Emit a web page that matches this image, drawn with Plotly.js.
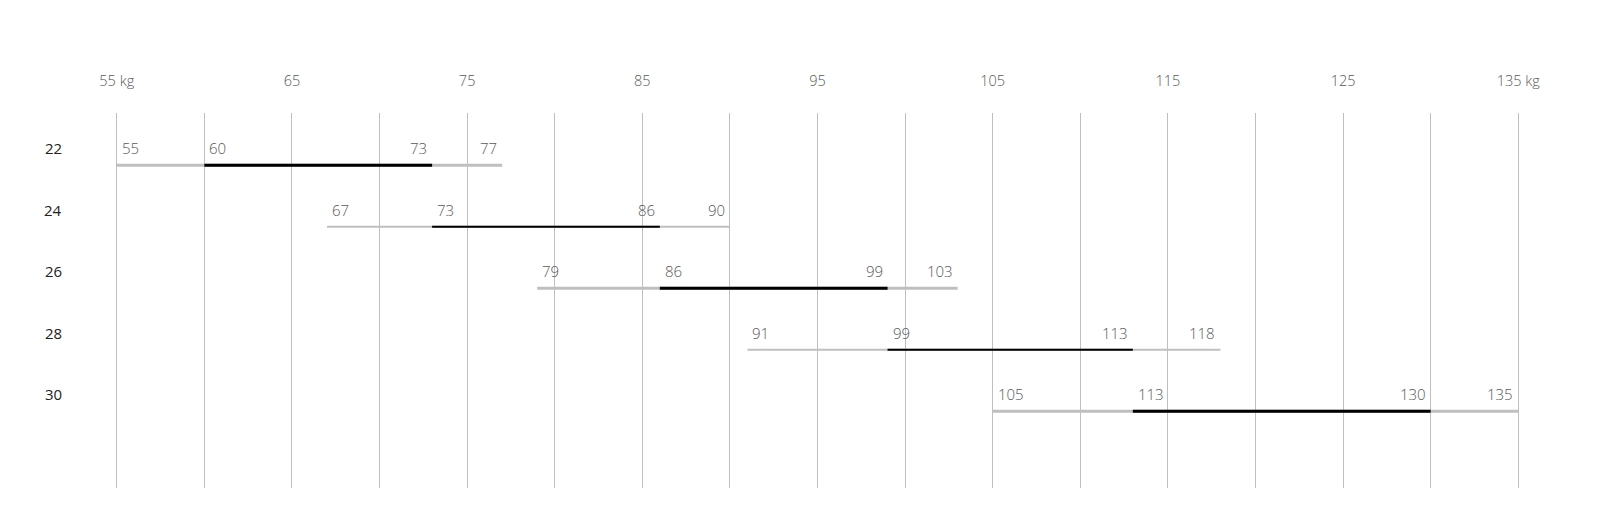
<!DOCTYPE html>
<html>
<head>
<meta charset="utf-8">
<script src="https://cdn.plot.ly/plotly-3.0.1.min.js"></script>
<style>
  html, body { margin: 0; padding: 0; background: #fff; overflow: hidden; }
  #chart { width: 1597px; height: 513px; }
</style>
</head>
<body>
<div id="chart"></div>
<script>
// Weight bands per row: outer range (grey) and inner range (black)
const ROWS        = [22, 24, 26, 28, 30];
const OUTER_LOW   = [55, 67, 79, 91, 105];
const INNER_LOW   = [60, 73, 86, 99, 113];
const INNER_HIGH  = [73, 86, 99, 113, 130];
const OUTER_HIGH  = [77, 90, 103, 118, 135];

const TICK_VALUES = [55, 60, 65, 70, 75, 80, 85, 90, 95, 100, 105, 110, 115, 120, 125, 130, 135];
const TICK_LABELS = ['55 kg', '', '65', '', '75', '', '85', '', '95', '', '105', '', '115', '', '125', '', '135 kg'];

const LINE_WIDTHS = [3, 2, 3, 2, 3];

const FONT = 'Open Sans, DejaVu Sans, sans-serif';
const GREY = '#bfbfbf';

const traces = [];
ROWS.forEach((row, i) => {
  traces.push({
    type: 'scatter', mode: 'lines',
    x: [OUTER_LOW[i], OUTER_HIGH[i]], y: [row, row],
    line: { color: GREY, width: LINE_WIDTHS[i] },
    hoverinfo: 'skip',
  });
  traces.push({
    type: 'scatter', mode: 'lines',
    x: [INNER_LOW[i], INNER_HIGH[i]], y: [row, row],
    line: { color: '#000', width: LINE_WIDTHS[i] },
    hoverinfo: 'skip',
  });
});

// Value labels sit just above the line: starts left-aligned, ends right-aligned
const labelFont = { family: FONT, size: 15, color: '#595959', weight: 300 };
const annotations = [];
ROWS.forEach((row, i) => {
  [OUTER_LOW[i], INNER_LOW[i]].forEach(v => annotations.push({
    x: v, y: row, text: String(v), showarrow: false,
    xanchor: 'left', yanchor: 'bottom', xshift: 3, yshift: 5, font: labelFont,
  }));
  [INNER_HIGH[i], OUTER_HIGH[i]].forEach(v => annotations.push({
    x: v, y: row, text: String(v), showarrow: false,
    xanchor: 'right', yanchor: 'bottom', xshift: -3, yshift: 5, font: labelFont,
  }));
  // row label at left
  annotations.push({
    x: -0.044, xref: 'paper', y: row, text: String(row), showarrow: false,
    xanchor: 'center', yanchor: 'bottom', yshift: 5,
    font: { family: FONT, size: 15, color: '#222' },
  });
});

const layout = {
  width: 1597, height: 513,
  paper_bgcolor: '#fff', plot_bgcolor: '#fff',
  showlegend: false,
  margin: { l: 115, r: 77, t: 113, b: 25 },
  xaxis: {
    side: 'top',
    range: [54.9, 135.1],
    tickmode: 'array', tickvals: TICK_VALUES, ticktext: TICK_LABELS,
    showgrid: true, gridcolor: GREY, gridwidth: 1,
    zeroline: false, showline: false,
    ticks: 'outside', ticklen: 20, tickcolor: 'rgba(0,0,0,0)',
    tickfont: { family: FONT, size: 14.5, color: '#595959', weight: 300 },
    automargin: false,
    fixedrange: true,
  },
  yaxis: {
    range: [32.5, 20.3],
    showgrid: false, zeroline: false, showline: false,
    showticklabels: false, ticks: '',
    fixedrange: true,
  },
  annotations: annotations,
};

Plotly.newPlot('chart', traces, layout, { displayModeBar: false, staticPlot: true });
</script>
</body>
</html>
